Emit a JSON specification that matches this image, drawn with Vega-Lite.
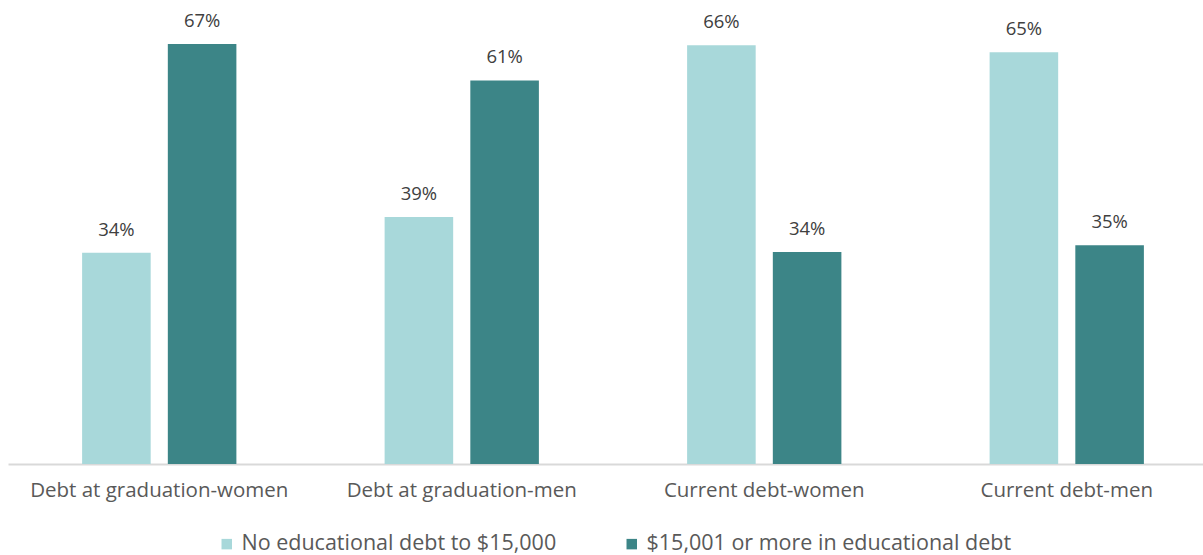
{
  "$schema": "https://vega.github.io/schema/vega-lite/v6.json",
  "width": 1210,
  "height": 464,
  "autosize": {"type": "none"},
  "padding": {"left": 8, "top": 0, "right": 0, "bottom": 91},
  "background": "white",
  "config": {"view": {"stroke": null}, "font": "Open Sans"},
  "data": {
    "values": [
      {"category": "Debt at graduation-women", "series": "No educational debt to $15,000", "value": 33.6, "label": "34%"},
      {"category": "Debt at graduation-women", "series": "$15,001 or more in educational debt", "value": 66.8, "label": "67%"},
      {"category": "Debt at graduation-men", "series": "No educational debt to $15,000", "value": 39.3, "label": "39%"},
      {"category": "Debt at graduation-men", "series": "$15,001 or more in educational debt", "value": 61.0, "label": "61%"},
      {"category": "Current debt-women", "series": "No educational debt to $15,000", "value": 66.6, "label": "66%"},
      {"category": "Current debt-women", "series": "$15,001 or more in educational debt", "value": 33.7, "label": "34%"},
      {"category": "Current debt-men", "series": "No educational debt to $15,000", "value": 65.5, "label": "65%"},
      {"category": "Current debt-men", "series": "$15,001 or more in educational debt", "value": 34.8, "label": "35%"}
    ]
  },
  "encoding": {
    "x": {
      "field": "category", "type": "nominal", "sort": null,
      "scale": {"paddingInner": 0.49, "paddingOuter": 0.245},
      "axis": {
        "title": null, "labelAngle": 0, "ticks": false, "domainColor": "#D9D9D9", "domainWidth": 2,
        "labelFontSize": 20.5, "labelColor": "#595959", "labelPadding": 16, "labelFont": "Open Sans",
        "labelLimit": 400
      }
    },
    "xOffset": {
      "field": "series", "type": "nominal", "sort": null,
      "scale": {"paddingInner": 0.2, "paddingOuter": 0}
    },
    "y": {
      "field": "value", "type": "quantitative",
      "scale": {"domain": [0, 73.8], "nice": false, "zero": true},
      "axis": null
    }
  },
  "layer": [
    {
      "mark": {"type": "bar"},
      "encoding": {
        "color": {
          "field": "series", "type": "nominal", "sort": null,
          "scale": {"domain": ["No educational debt to $15,000", "$15,001 or more in educational debt"], "range": ["#A8D8DA", "#3C8587"]},
          "legend": {
            "title": null, "orient": "none", "legendX": 208, "legendY": 533, "direction": "horizontal", "symbolType": "square",
            "symbolSize": 110, "labelFontSize": 21.5, "labelColor": "#595959", "labelFont": "Open Sans",
            "labelLimit": 500, "columnPadding": 64, "symbolOffset": 0, "labelOffset": 4, "symbolStrokeWidth": 0
          }
        }
      }
    },
    {
      "mark": {"type": "text", "dy": -17, "baseline": "alphabetic", "fontSize": 18.5, "color": "#404040", "font": "Open Sans"},
      "encoding": {"text": {"field": "label"}}
    }
  ]
}
